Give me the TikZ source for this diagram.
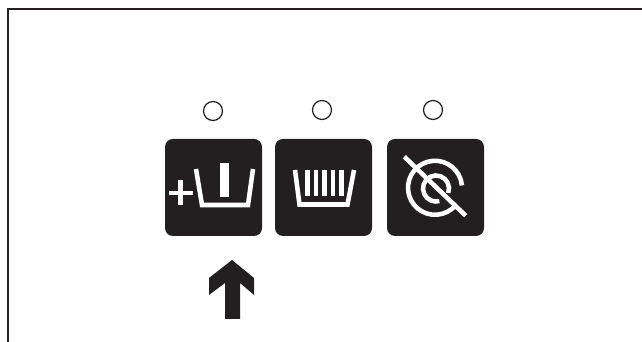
\documentclass[tikz,border=0pt]{standalone}
\usepackage{xcolor}
\usepackage{tikz}
\usetikzlibrary{positioning,calc}
\definecolor{panelblack}{RGB}{35,31,32}
\tikzset{
  panel button/.style={
    rectangle,
    rounded corners=0.08cm,
    fill=panelblack,
    draw=none,
    minimum size=0.97cm,
    inner sep=0pt,
    outer sep=0pt
  },
  panel led/.style={
    circle,
    draw=panelblack,
    line width=0.35pt,
    minimum size=0.19cm,
    inner sep=0pt
  },
  icon line/.style={
    draw=white,
    line width=1.3pt
  },
  icon bar/.style={
    fill=white,
    draw=none
  }
}

\begin{document}
\begin{tikzpicture}
  \useasboundingbox (0,0) rectangle (6.42,3.42);

  % Frame open to the right and bottom
  \draw[panelblack, line width=0.6pt] (0.08,0) -- (0.08,3.33) -- (6.42,3.33);

  % Buttons
  \node[panel button] (fill) at (2.135,1.545) {};
  \node[panel button, right=0.13cm of fill] (basket) {};
  \node[panel button, right=0.15cm of basket] (noring) {};

  % Lamps
  \node[panel led] (ledfill) at (2.13,2.31) {};
  \node[panel led] (ledbasket) at (3.22,2.32) {};
  \node[panel led] (ledring) at (4.33,2.32) {};

  % Fill icon
  \fill[icon bar] (1.69,1.467) rectangle (1.93,1.514);
  \fill[icon bar] (1.78,1.37) rectangle (1.83,1.62);
  \draw[icon line] (1.96,1.73) -- (2.02,1.37) -- (2.48,1.37) -- (2.53,1.73);
  \fill[icon bar] (2.20,1.45) rectangle (2.29,1.79);

  % Basket icon
  \draw[icon line] (2.95,1.72) -- (2.995,1.375) -- (3.475,1.375) -- (3.54,1.72);
  \foreach \x in {3.05,3.135,3.22,3.305,3.39} {
    \fill[icon bar] (\x,1.46) rectangle (\x+0.048,1.72);
  }

  % Crossed ring icon
  \draw[icon line] ($(4.35,1.542)+(5:0.27)$) arc (5:320:0.27);
  \draw[icon line] ($(4.36,1.535)+(-20:0.13)$) arc (-20:285:0.13);
  \draw[icon line] (4.043,1.853) -- (4.657,1.263);

  % Arrow
  \fill[panelblack] (2.32,0.82) -- (2.54,0.64) -- (2.54,0.47) -- (2.40,0.59) -- (2.40,0.23)
    -- (2.25,0.23) -- (2.25,0.59) -- (2.09,0.47) -- (2.09,0.64) -- cycle;
\end{tikzpicture}
\end{document}
